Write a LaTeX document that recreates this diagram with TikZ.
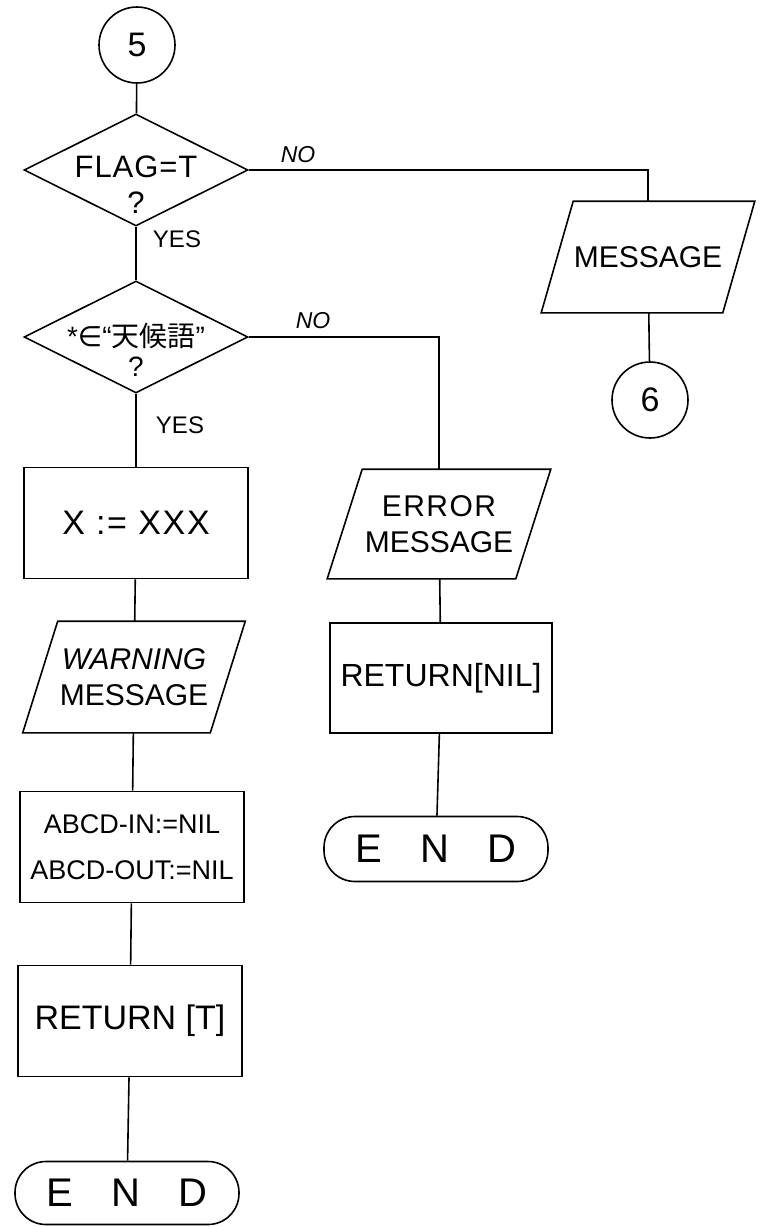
\documentclass[tikz,border=0pt]{standalone}
\usepackage{fontspec}
\setmainfont{Liberation Sans}
\newfontfamily\cjk{Noto Sans CJK JP}
\newfontfamily\symfont{DejaVu Sans}
\usetikzlibrary{shapes.geometric}
\tikzset{
  every path/.style={line width=1.6pt},
  conncircle/.style={draw, circle, minimum size=76pt, inner sep=0pt, font=\fontsize{34}{36}\selectfont},
  decision/.style={draw, diamond, aspect=2, minimum width=224pt, minimum height=112pt, inner sep=0pt},
  dtext/.style={align=center, inner sep=0pt},
  procbox/.style={draw, rectangle, minimum width=224pt, minimum height=111pt, inner sep=0pt, align=center, font=\fontsize{30}{34}\selectfont},
  iobox/.style={rectangle, minimum width=221pt, minimum height=110pt, inner sep=0pt, align=center, font=\fontsize{30}{36}\selectfont},
  termbox/.style={draw, rectangle, rounded corners=31pt, minimum width=224pt, minimum height=63pt, inner sep=0pt, font=\fontsize{40}{42}\selectfont},
  nolabel/.style={font=\fontsize{23}{25}\selectfont\itshape},
  yeslabel/.style={font=\fontsize{24}{26}\selectfont},
}
\newcommand{\parabox}[2]{%
  \draw ([xshift=#2]#1.north west) -- (#1.north east) -- ([xshift=-#2]#1.south east) -- (#1.south west) -- cycle;}
\newcommand{\myENDtext}{E\hspace{38pt}N\hspace{38pt}D}
\begin{document}
\begin{tikzpicture}[x=1pt,y=-1pt]
\useasboundingbox (0,0) rectangle (774,1227);
% main column
\node[conncircle] (c5) at (137,45) {5};
\node[decision] (d1) at (136,170) {};
\node[dtext, font=\fontsize{31}{36}\selectfont\addfontfeature{LetterSpace=3}] (d1t) at (136,185) {FLAG=T\\?};
\node[decision] (d2) at (136,337) {};
\node[dtext, font=\fontsize{28}{30}\selectfont] (d2t) at (136,350) {*{\symfont ∈}“{\cjk 天候語}”\\?};
\node[procbox, font=\fontsize{34}{36}\selectfont\addfontfeature{LetterSpace=5}] (xb) at (136,523) {X := XXX};
\node[iobox] (warn) at (134,677) {\textit{WARNING}\\MESSAGE};
\parabox{warn}{35pt}
\node[procbox, font=\fontsize{27}{46}\selectfont] (abcd) at (132,847) {ABCD-IN:=NIL\\ABCD-OUT:=NIL};
\node[procbox, font=\fontsize{34}{36}\selectfont] (rett) at (130,1021) {RETURN [T]};
\node[termbox] (end1) at (127,1193) {\myENDtext};
% right column
\node[iobox, minimum width=212pt] (msg) at (648,257) {MESSAGE};
\parabox{msg}{32pt}
\node[conncircle] (c6) at (650,400) {6};
% middle column
\node[iobox, minimum width=222pt, minimum height=108pt] (err) at (439,524) {\addfontfeature{LetterSpace=5}ERROR\\MESSAGE};
\parabox{err}{35pt}
\node[procbox, minimum width=222pt, minimum height=110pt, font=\fontsize{32}{34}\selectfont] (retn) at (441,678) {RETURN[NIL]};
\node[termbox, minimum height=65pt] (end2) at (436,849) {\myENDtext};
% connectors
\draw (c5) -- (d1);
\draw (d1) -- (d2);
\draw (d2) -- (xb);
\draw (xb) -- (warn);
\draw (warn) -- (abcd);
\draw (abcd) -- (rett);
\draw (rett) -- (end1);
\draw (d1.east) -| (msg.north);
\draw (msg) -- (c6);
\draw (d2.east) -| (err.north);
\draw (err) -- (retn);
\draw (retn) -- (end2);
% labels
\node[nolabel] (no1) at (298,155) {NO};
\node[nolabel] (no2) at (313,321) {NO};
\node[yeslabel] (yes1) at (177,239) {YES};
\node[yeslabel] (yes2) at (180,425) {YES};
\end{tikzpicture}
\end{document}
